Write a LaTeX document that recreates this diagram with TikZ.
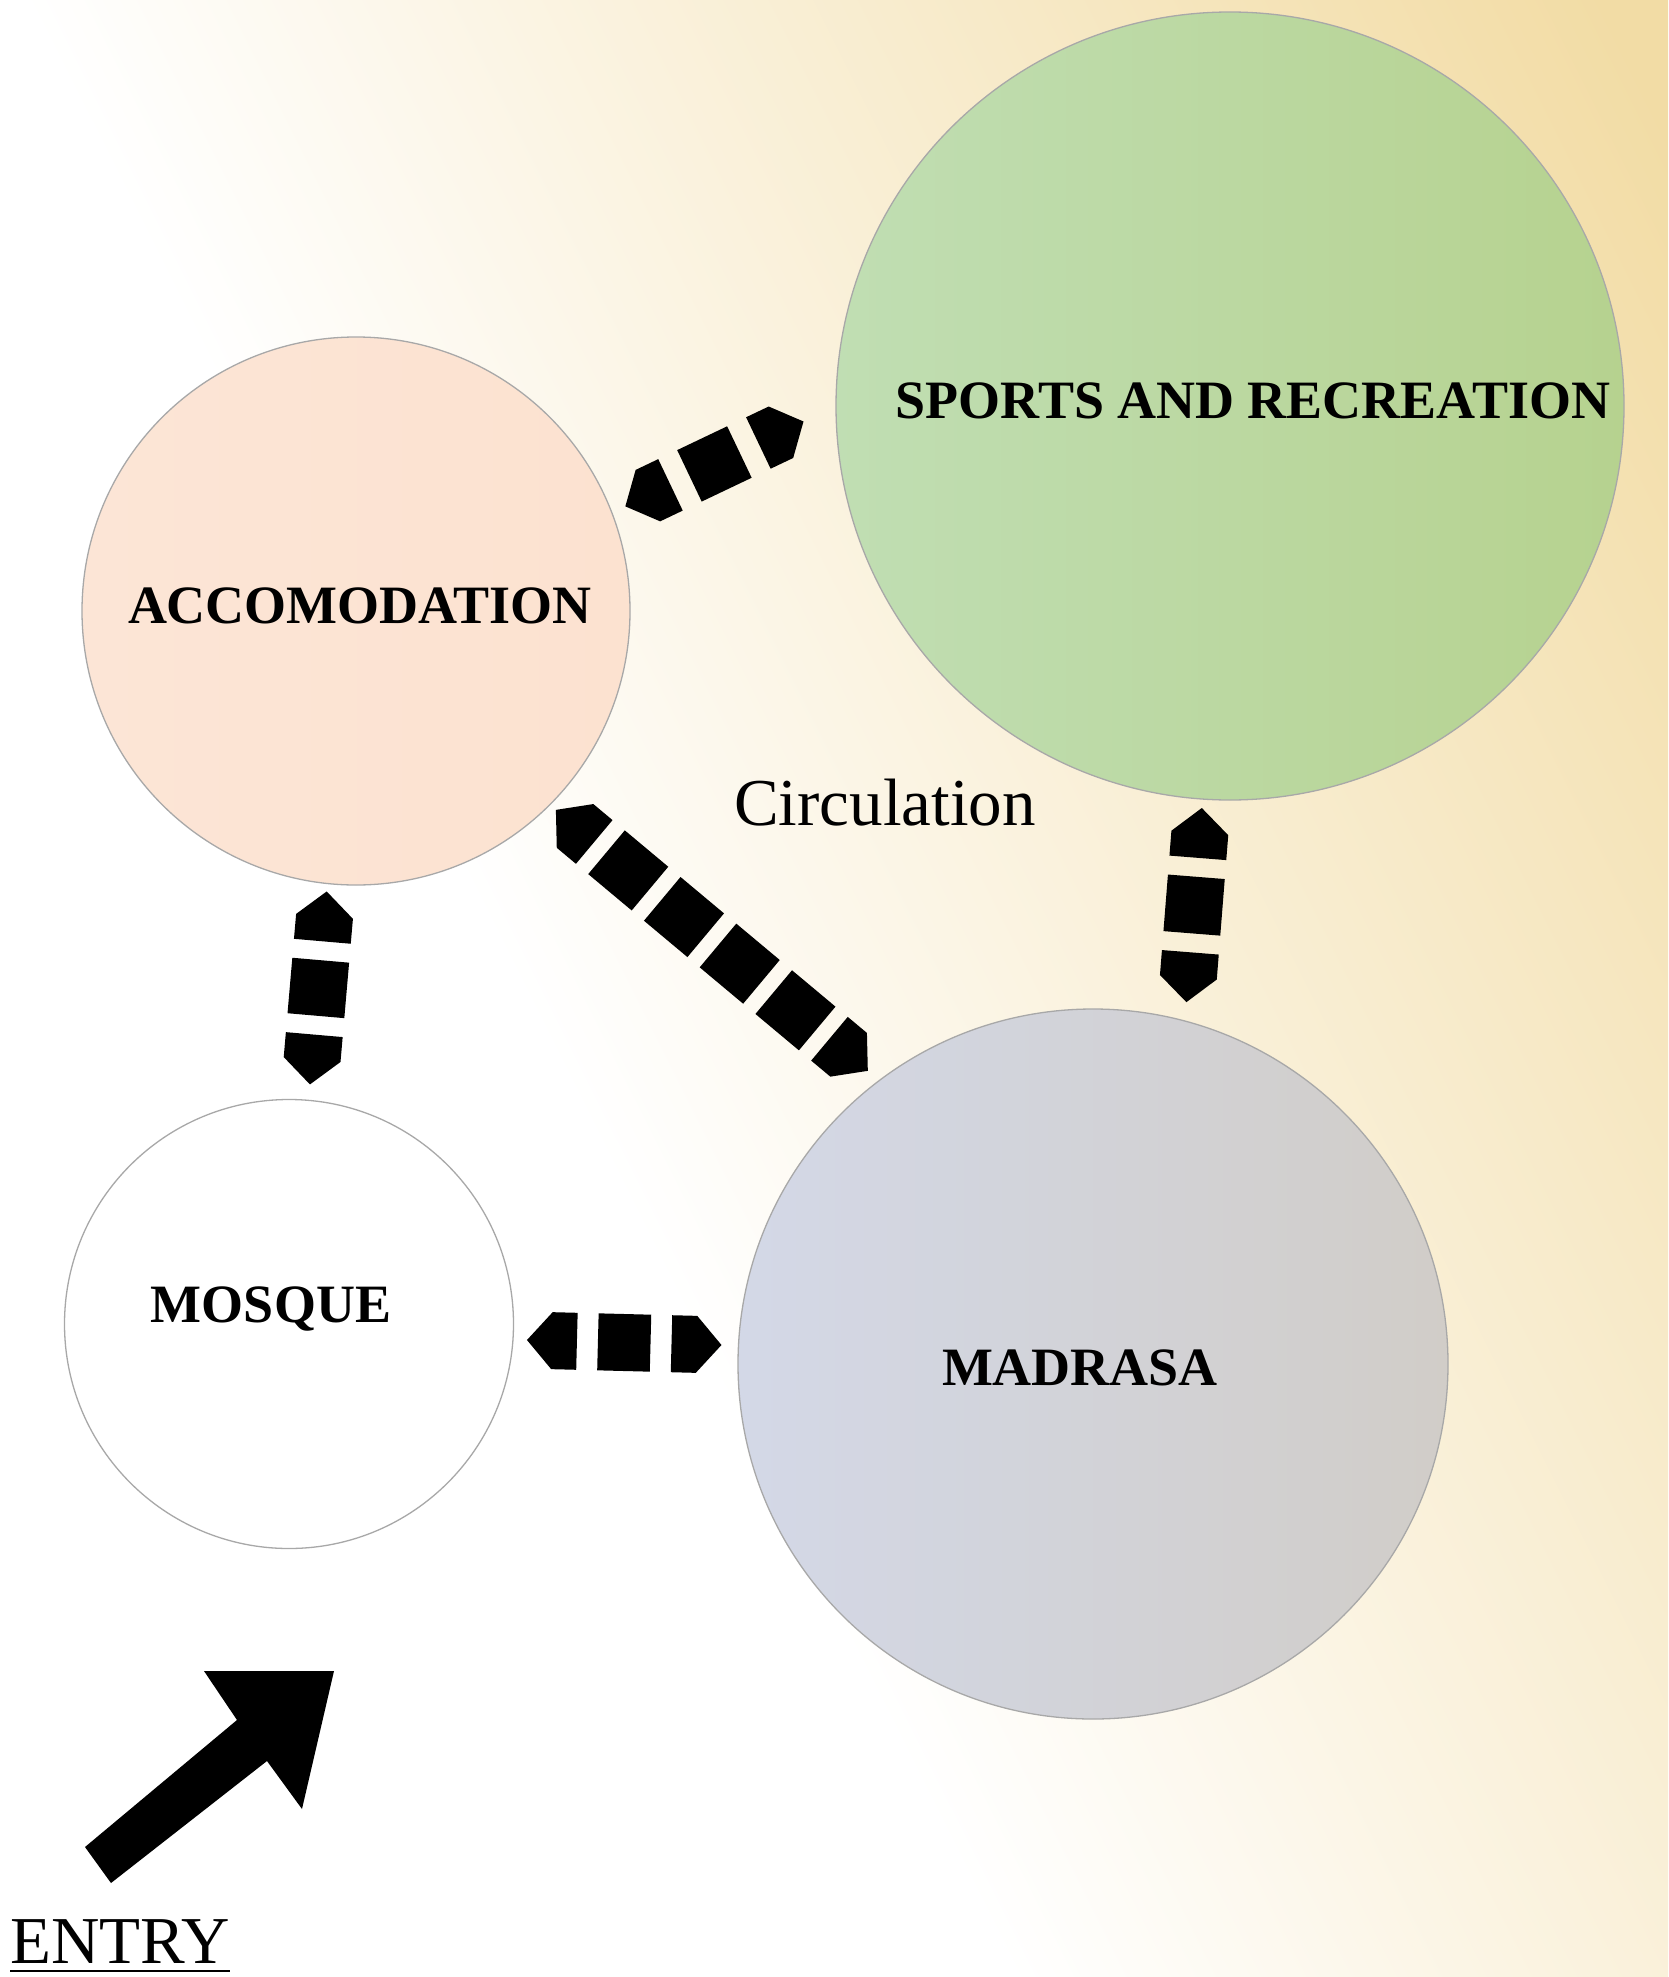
\documentclass[tikz,border=0pt]{standalone}
\usepackage{fontspec}
\setmainfont{Liberation Serif}
\usetikzlibrary{calc}

\definecolor{bgtan}{RGB}{242,220,165}
\definecolor{roomline}{RGB}{168,168,168}
\definecolor{accomL}{RGB}{252,229,214}
\definecolor{accomR}{RGB}{252,226,208}
\definecolor{sportsL}{RGB}{192,222,179}
\definecolor{sportsR}{RGB}{182,210,143}
\definecolor{madrasaL}{RGB}{211,216,231}
\definecolor{madrasaR}{RGB}{209,205,200}

\pgfdeclarehorizontalshading{backdrop}{100bp}{color(0bp)=(white); color(42bp)=(white); color(82bp)=(bgtan); color(100bp)=(bgtan)}

\tikzset{
  room/.style={circle, draw=roomline, line width=1.3pt, inner sep=0pt, outer sep=0pt, minimum size=#1},
  roomname/.style={anchor=base, inner sep=0pt, font=\fontsize{54}{60}\selectfont\bfseries},
}

% dashed circulation arrow: start anchor, end anchor, gap at start, gap at end, middle blocks, gap between pieces
\newcommand{\circlink}[6]{%
  \fill let \p1=($(#1)!#3pt!(#2)$), \p2=($(#2)!#4pt!(#1)$),
    \n1={atan2(\y2-\y1,\x2-\x1)}, \n2={veclen(\x2-\x1,\y2-\y1)},
    \n3={(\n2-100pt-#6pt*(#5+1))/#5} in
    {[shift={(\p1)}, rotate=\n1]
    (0pt,0pt) -- (25pt,28.5pt) -- (50pt,28.5pt) -- (50pt,-28.5pt) -- (25pt,-28.5pt) -- cycle
    (\n2,0pt) -- ({\n2-25pt},28.5pt) -- ({\n2-50pt},28.5pt) -- ({\n2-50pt},-28.5pt) -- ({\n2-25pt},-28.5pt) -- cycle
    foreach \blk [evaluate=\blk as \xa using {50+#6*\blk+\n3*(\blk-1)},
                  evaluate=\blk as \xb using {50+#6*\blk+\n3*\blk}] in {1,...,#5} {
      (\xa pt,-28.5pt) rectangle (\xb pt,28.5pt)}
    };
}

\begin{document}
\begin{tikzpicture}[x=1pt, y=-1pt]
\useasboundingbox (0,0) rectangle (1668,1977);
\shade[shading=backdrop, shading angle=26.6] (0,0) rectangle (1668,1977);

% rooms
\node[room=548pt, left color=accomL, right color=accomR] (accom) at (356,611) {};
\node[room=788pt, left color=sportsL, right color=sportsR] (sports) at (1230,406) {};
\node[room=449pt, fill=white] (mosque) at (289,1324) {};
\node[room=710pt, left color=madrasaL, right color=madrasaR] (madrasa) at (1093,1364) {};

\node[roomname] (accomname) at (360,623) {ACCOMODATION};
\node[roomname] (sportsname) at (1253,418) {SPORTS AND RECREATION};
\node[roomname] (mosquename) at (271,1322) {MOSQUE};
\node[roomname] (madrasaname) at (1080,1385) {MADRASA};
\node[anchor=base, inner sep=0pt, font=\fontsize{67}{80}\selectfont] (circulation) at (885,825) {Circulation};

% circulation links
\circlink{accom.21}{sports.180}{15}{36}{1}{21}
\circlink{accom.264.5}{mosque.85.3}{8}{16}{1}{19}
\circlink{sports.266.3}{madrasa.75.6}{9}{19}{1}{19}
\circlink{mosque.356.65}{madrasa.177.9}{14}{17}{1}{21}
\circlink{accom.315.6}{madrasa.127.6}{8}{15}{4}{16}

% entry
\fill (85,1847) -- (237,1720) -- (204,1671) -- (334,1671) -- (302,1809) -- (267,1761) -- (111,1883) -- cycle;
\node[anchor=base west, inner sep=0pt, font=\fontsize{67}{80}\selectfont] (entry) at (10,1963) {ENTRY};
\draw[line width=2.5pt] ([yshift=-8pt]entry.base west) -- ([yshift=-8pt]entry.base east);
\end{tikzpicture}
\end{document}
